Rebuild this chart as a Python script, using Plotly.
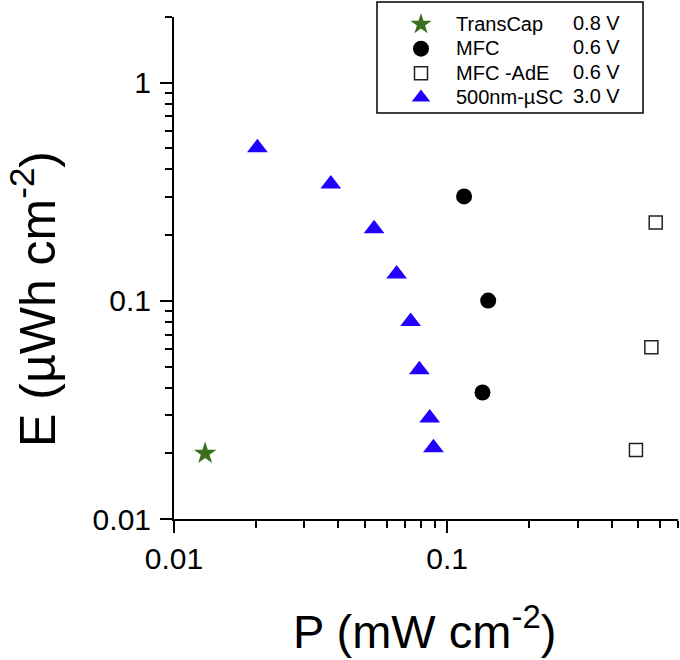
import plotly.graph_objects as go

# ---- data ----
transcap_P = [0.0130]
transcap_E = [0.0200]

mfc_P = [0.1153, 0.1413, 0.1347]
mfc_E = [0.301, 0.1003, 0.038]

mfc_ade_P = [0.580, 0.559, 0.491]
mfc_ade_E = [0.2286, 0.0613, 0.0207]

usc_P = [0.0202, 0.0375, 0.0540, 0.0653, 0.0735, 0.0791, 0.0863, 0.0891]
usc_E = [0.503, 0.343, 0.214, 0.1326, 0.0804, 0.0483, 0.0290, 0.0212]

series_names = ["TransCap", "MFC", "MFC -AdE", "500nm-µSC"]
series_volts = ["0.8 V", "0.6 V", "0.6 V", "3.0 V"]

x_tickvals = [0.01, 0.1]
x_ticktext = ["0.01", "0.1"]
y_tickvals = [0.01, 0.1, 1]
y_ticktext = ["0.01", "0.1", "1"]

FONT = "Liberation Sans, Arial, sans-serif"

def legend_label(s):
    return '<span style="font-size:20px">' + s + '</span>'

fig = go.Figure()
fig.add_trace(go.Scatter(x=transcap_P, y=transcap_E, mode="markers", name=legend_label(series_names[0]),
                         marker=dict(symbol="star", size=17, color="#3B6E1A")))
fig.add_trace(go.Scatter(x=mfc_P, y=mfc_E, mode="markers", name=legend_label(series_names[1]),
                         marker=dict(symbol="circle", size=16, color="black")))
fig.add_trace(go.Scatter(x=mfc_ade_P, y=mfc_ade_E, mode="markers", name=legend_label(series_names[2]),
                         marker=dict(symbol="square-open", size=13, color="#222222",
                                     line=dict(width=1.5, color="#222222"))))
fig.add_trace(go.Scatter(x=usc_P, y=usc_E, mode="markers", name=legend_label(series_names[3]),
                         marker=dict(symbol="triangle-up", size=18, color="#2200FF")))

minor_vals = [m * 10.0 ** e for e in (-2, -1, 0) for m in range(2, 10)]

axis_common = dict(
    type="log", showline=True, linewidth=2, linecolor="black", mirror=False,
    ticks="outside", ticklen=12, tickwidth=2, tickcolor="black",
    showgrid=False, zeroline=False,
    tickfont=dict(family=FONT, size=30, color="black"),
)

fig.update_xaxes(range=[-2, -0.155], tickmode="array", tickvals=x_tickvals, ticktext=x_ticktext,
                 minor=dict(tickmode="array", tickvals=minor_vals, ticks="outside", ticklen=7,
                            tickwidth=2, tickcolor="black", showgrid=False),
                 **axis_common)
fig.update_yaxes(range=[-2, 0.301], tickmode="array", tickvals=y_tickvals, ticktext=y_ticktext,
                 ticklabelstandoff=3,
                 minor=dict(tickmode="array", tickvals=minor_vals, ticks="outside", ticklen=7,
                            tickwidth=2, tickcolor="black", showgrid=False),
                 **axis_common)

L, R, T, B = 174, 2, 17, 141
PW, PH = 680 - L - R, 660 - T - B

def px_x(p):
    return (p - L) / PW

def px_y(p):
    return (660 - B - p) / PH

annotations = []
row_y = [23, 47.5, 72, 96.5]
for v, ry in zip(series_volts, row_y):
    annotations.append(dict(xref="paper", yref="paper", x=px_x(622), y=px_y(ry), text=v,
                            showarrow=False, xanchor="right", yanchor="middle",
                            font=dict(family=FONT, size=20, color="black")))
annotations.append(dict(xref="paper", yref="paper", x=px_x(424), y=px_y(660), yanchor="bottom",
                        text="P (mW cm<sup>-2</sup>)", showarrow=False,
                        xanchor="center",
                        font=dict(family=FONT, size=47, color="black")))
annotations.append(dict(xref="paper", yref="paper", x=px_x(0), y=px_y(299),
                        text="E (µWh cm<sup>-2</sup>)", showarrow=False, textangle=-90,
                        xanchor="left", yanchor="middle",
                        font=dict(family=FONT, size=50, color="black")))

fig.update_layout(
    width=680, height=660,
    margin=dict(l=L, r=R, t=T, b=B),
    paper_bgcolor="white", plot_bgcolor="white",
    showlegend=True,
    legend=dict(x=px_x(386), y=px_y(7), xanchor="left", yanchor="top",
                bgcolor="rgba(0,0,0,0)", borderwidth=0,
                font=dict(family=FONT, size=16.5, color="black"),
                itemwidth=60, tracegroupgap=0),
    annotations=annotations,
    shapes=[dict(type="rect", xref="paper", yref="paper",
                 x0=px_x(377), x1=px_x(643), y0=px_y(113), y1=px_y(2),
                 line=dict(color="black", width=1.5), fillcolor="rgba(0,0,0,0)")],
)

fig.write_html("out.html", config={"displayModeBar": False},
               post_script="document.body.style.margin='0';")
